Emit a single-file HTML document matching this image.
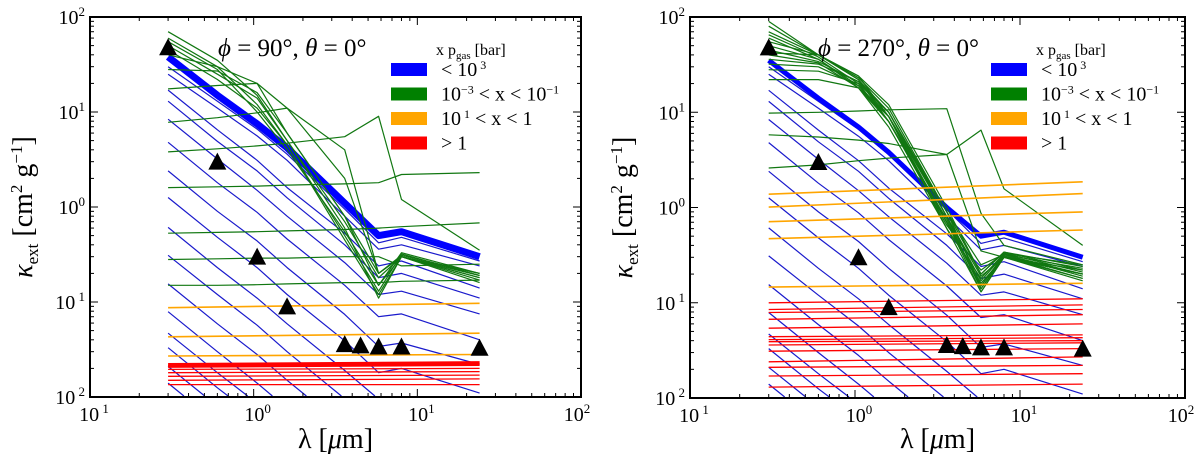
<!DOCTYPE html>
<html><head><meta charset="utf-8"><style>
html,body{margin:0;padding:0;background:#fff;width:1200px;height:462px;overflow:hidden}
svg{display:block}
svg text{font-family:"Liberation Serif",serif;fill:#000}
</style></head><body>
<svg id="fig" width="1200" height="462" xmlns="http://www.w3.org/2000/svg"></svg>
<script>
// ---- data ----
const wl = [0.3,0.6,1.05,1.6,3.6,5.8,8,24];
const obsWl = [0.3,0.6,1.05,1.6,3.6,4.5,5.8,8,24];
const obsK = [48,3,0.3,0.09,0.036,0.035,0.034,0.034,0.033];
const blueBundleL = [38,15,7.5,4.2,1.1,0.5,0.55,0.3];
const blueBundleR = [35,14,7,3.8,1.0,0.5,0.55,0.3];
const blueThin = [
 [30,13,6.6,3.6,0.95,0.42,0.48,0.27],
 [25,11,5.6,3.1,0.8,0.36,0.4,0.24],
 [17,6.5,3.1,1.6,0.53,0.24,0.27,0.14],
 [13,4.9,2.4,1.25,0.4,0.18,0.2,0.11],
 [8.4,3.2,1.5,0.8,0.26,0.12,0.13,0.075],
 [4.8,1.8,0.88,0.46,0.15,0.07,0.075,0.04],
 [2.4,0.9,0.44,0.23,0.074,0.034,0.037,0.022],
 [1.26,0.48,0.23,0.12,0.039,0.018,0.02,0.011],
 [0.61,0.23,0.11,0.059,0.019,0.0095,0.0105,0.006],
 [0.31,0.12,0.057,0.03,0.0096,0.005,0.005,0.003],
 [0.155,0.059,0.028,0.015,0.0048,0.002,0.002,0.001],
 [0.079,0.03,0.014,0.0076,0.002,0.001,0.001,0.001],
 [0.047,0.018,0.0086,0.0045,0.001,0.001,0.001,0.001],
 [0.033,0.0125,0.006,0.003,0.001,0.001,0.001,0.001],
 [0.021,0.008,0.0038,0.002,0.001,0.001,0.001,0.001],
 [0.014,0.0053,0.0025,0.0013,0.001,0.001,0.001,0.001]
];
const greenL = [
 [70,35,15,5,0.6,0.11,0.3,0.17],
 [60,30,12,4.5,0.5,0.13,0.32,0.19],
 [55,28,10,4,0.55,0.15,0.33,0.2],
 [50,25,14,5,0.7,0.18,0.3,0.18],
 [45,22,11,4.5,0.45,0.12,0.3,0.16],
 [40,30,20,6,0.8,0.2,0.31,0.2],
 [28,27,16,6,0.8,0.15,0.3,0.18],
 [17.5,19,20,11,2,0.2,0.3,0.2],
 [7.8,8.7,9.8,11,4,0.2,0.3,0.19],
 [3.8,4.1,4.4,4.7,5.5,9,1.2,0.35],
 [1.6,1.63,1.66,1.7,1.75,1.8,2.2,2.3],
 [0.53,0.54,0.55,0.56,0.58,0.6,0.62,0.68],
 [0.28,0.285,0.29,0.29,0.3,0.3,0.24,0.25],
 [0.15,0.15,0.152,0.155,0.16,0.16,0.165,0.17]
];
const greenR = [
 [90,40,22,8,0.7,0.13,0.3,0.17],
 [80,40,24,9,0.8,0.14,0.31,0.18],
 [70,40,22,10,0.9,0.15,0.32,0.19],
 [65,38,20,8,0.7,0.16,0.3,0.2],
 [60,36,19,9,0.6,0.18,0.33,0.21],
 [55,40,23,11,0.9,0.2,0.34,0.22],
 [50,36,18,8,0.75,0.14,0.3,0.2],
 [45,34,21,10,0.8,0.17,0.32,0.23],
 [42,40,24,12,1.0,0.2,0.34,0.24],
 [40,33,18,7,0.6,0.13,0.3,0.18],
 [36,32,21,9,0.7,0.15,0.31,0.2],
 [32,30,19,8,0.65,0.22,0.33,0.25],
 [28,27,20,10,0.8,0.19,0.3,0.22],
 [22,22,18,9,0.9,0.25,0.32,0.2],
 [9.8,10,10.3,10.6,10.9,0.87,0.4,0.25],
 [5.8,5.5,5.1,4.7,3.6,0.35,0.3,0.2],
 [2.6,2.8,3.1,3.3,3.6,6.5,1.57,0.4]
];
const orangeL = [[0.087,0.097],[0.043,0.047],[0.027,0.028]];
const orangeR = [[1.38,1.86],[1.01,1.4],[0.71,0.9],[0.47,0.58],[0.146,0.16]];
const redL = [[0.022,0.023],[0.021,0.022],[0.0195,0.02],[0.018,0.0185],[0.0165,0.017],[0.015,0.0155],[0.0135,0.0135]];
const redR = [[0.1,0.11],[0.085,0.095],[0.079,0.085],[0.067,0.075],[0.054,0.06],[0.044,0.046],[0.041,0.043],[0.039,0.04],[0.036,0.038],[0.031,0.033],[0.024,0.027],[0.021,0.022],[0.017,0.018],[0.013,0.014]];
const xTickExp = [-1,0,1,2];
const yTickExp = [-2,-1,0,1,2];

// ---- drawing ----
const NS="http://www.w3.org/2000/svg", svg=document.getElementById('fig');
function el(t,a,p){const e=document.createElementNS(NS,t);for(const k in a)e.setAttribute(k,a[k]);(p||svg).appendChild(e);return e;}
function panel(id,x0,x1,y0,y1,conf){
  const g=el('g',{});
  
  
  const X=v=>x0+(Math.log10(v)+1)/3*(x1-x0);
  const Y=v=>y1-(Math.log10(v)+2)/4*(y1-y0);
  const d=el('g',{},g);
  function line(vals,xs,col,w,name){
    // clip at the bottom axis (log10 = -2) and top (log10 = 2)
    const pts=vals.map((v,i)=>[X(xs[i]),Y(v)]);
    const out=[];
    const lo=y1-1, hi=y0+1;
    for(let i=0;i<pts.length;i++){
      const p=pts[i];
      const inside=p[1]<=lo&&p[1]>=hi;
      if(i>0){const q=pts[i-1];const qin=q[1]<=lo&&q[1]>=hi;
        if(inside!==qin){const bound=(inside?q[1]:p[1])>lo?lo:hi;const t=(bound-q[1])/(p[1]-q[1]);out.push([q[0]+t*(p[0]-q[0]),bound]);}}
      if(inside)out.push(p);
      if(!inside&&out.length&&i>0)break;
    }
    if(out.length<2)return;
    const pl=el('polyline',{points:out.map(p=>p[0].toFixed(1)+','+p[1].toFixed(1)).join(' '),fill:'none',stroke:col,'stroke-width':w,'stroke-linejoin':'round'},d);
    
    
  }
  const ends=[wl[0],wl[wl.length-1]];
  blueThin.forEach(s=>line(s,wl,'#1a1acc',1.2,'blue-line'));
  line(conf.bundle,wl,'#0000ff',conf.bw,'blue-bundle');
  conf.green.forEach(s=>line(s,wl,'#117711',1.2,'green-line'));
  conf.orange.forEach(s=>line(s,ends,'#ffa500',1.6,'orange-line'));
  conf.red.forEach((s,i)=>line(s,ends,'#ff0000',(i<conf.redThick?3:1.3),'red-line'));
  obsK.forEach((v,i)=>{const cx=X(obsWl[i]),cy=Y(v);
    const t=el('polygon',{points:`${cx-9},${cy+8} ${cx+9},${cy+8} ${cx},${cy-9}`,fill:'#000'},g);
    
    });
  el('rect',{x:x0,y:y0,width:x1-x0,height:y1-y0,fill:'none',stroke:'#000','stroke-width':2},g);
  for(let e=-1;e<2;e++)for(let m=1;m<10;m++){const xx=X(m*Math.pow(10,e));const L=m==1?8:4;
    el('line',{x1:xx,x2:xx,y1:y1,y2:y1-L,stroke:'#000'},g);el('line',{x1:xx,x2:xx,y1:y0,y2:y0+L,stroke:'#000'},g);}
  for(let e=-2;e<2;e++)for(let m=1;m<10;m++){const yy=Y(m*Math.pow(10,e));const L=m==1?8:4;
    el('line',{x1:x0,x2:x0+L,y1:yy,y2:yy,stroke:'#000'},g);el('line',{x1:x1,x2:x1-L,y1:yy,y2:yy,stroke:'#000'},g);}
  xTickExp.forEach(e=>{const t=el('text',{x:X(Math.pow(10,e))+(e==2?-4:4),y:y1+24,'font-size':20,'text-anchor':'middle'},g);
    t.innerHTML='10<tspan dy="-8" font-size="13">'+(e<0?' '+(-e):e)+'</tspan>';
    });
  yTickExp.forEach(e=>{const t=el('text',{x:x0-5,y:Y(Math.pow(10,e))+7,'font-size':20,'text-anchor':'end'},g);
    t.innerHTML='10<tspan dy="-8" font-size="13">'+(e<0?' '+(-e):e)+'</tspan>';
    });
  const xl=el('text',{x:(x0+x1)/2,y:448,'font-size':28,'text-anchor':'middle'},g);
  xl.innerHTML='λ [<tspan font-style="italic">μ</tspan>m]';
  
  const yl=el('text',{x:0,y:0,'font-size':28,'text-anchor':'middle',transform:`translate(${x0-58},${(y0+y1)/2}) rotate(-90)`},g);
  yl.innerHTML='<tspan font-style="italic">κ</tspan><tspan font-size="17" dy="6">ext</tspan><tspan dy="-6"> [cm</tspan><tspan font-size="17" dy="-10">2</tspan><tspan dy="10"> g</tspan><tspan font-size="17" dy="-10">−1</tspan><tspan dy="10">]</tspan>';
  
  const tt=el('text',{x:conf.titleX,y:56,'font-size':25},g);
  tt.innerHTML='<tspan font-style="italic">ϕ</tspan> = '+conf.phi+'°, <tspan font-style="italic">θ</tspan> = 0°';
  
  const lx=conf.legX;
  const lh=el('text',{x:lx+45,y:55,'font-size':16},g);
  lh.innerHTML='x p<tspan font-size="11" dy="4">gas</tspan><tspan dy="-4"> [bar]</tspan>';
  
  const items=[['#0000ff','&lt; 10<tspan dy="-7" font-size="12"> 3</tspan>'],['#008000','10<tspan dy="-7" font-size="12">−3</tspan><tspan dy="7"> &lt; x &lt; 10</tspan><tspan dy="-7" font-size="12">−1</tspan>'],['#ffa500','10<tspan dy="-7" font-size="12"> 1</tspan><tspan dy="7"> &lt; x &lt; 1</tspan>'],['#ff0000','&gt; 1']];
  items.forEach((it,i)=>{const yy=63+i*24.5;
    const r=el('rect',{x:lx,y:yy,width:36,height:13,fill:it[0]},g);
    
    const t=el('text',{x:lx+50,y:yy+13,'font-size':20},g);t.innerHTML=it[1];
    });
}
panel('left-panel',90,581,17,397,{bundle:blueBundleL,bw:7,green:greenL,orange:orangeL,red:redL,redThick:2,phi:'90',titleX:218,legX:391});
panel('right-panel',690,1185,17,398,{bundle:blueBundleR,bw:5,green:greenR,orange:orangeR,red:redR,redThick:0,phi:'270',titleX:818,legX:991});
</script>
</body></html>
